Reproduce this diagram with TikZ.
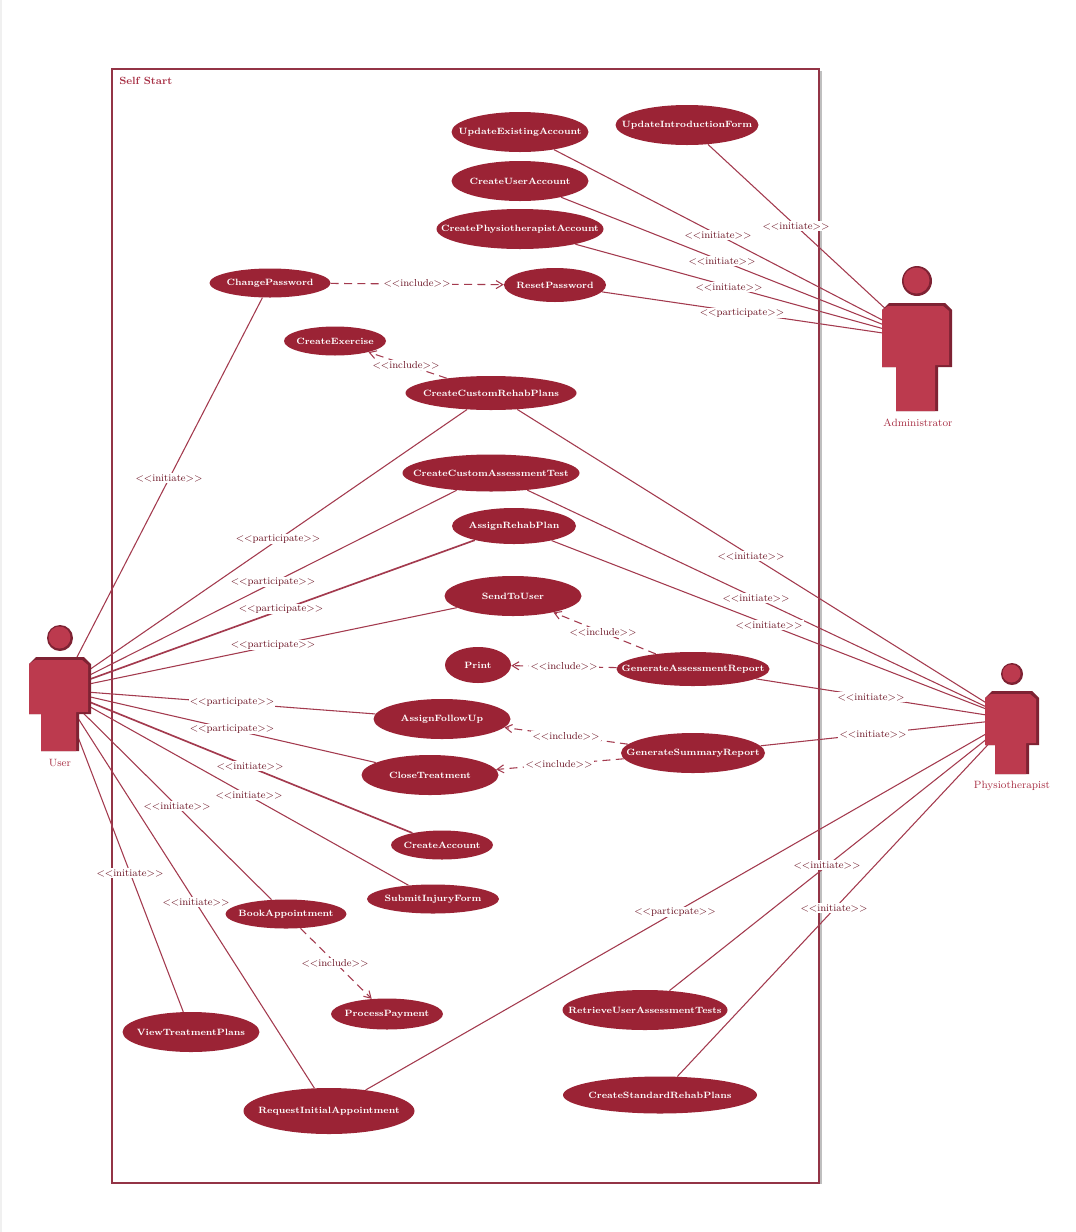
\documentclass[tikz,border=0pt]{standalone}
\usetikzlibrary{shapes.geometric,arrows.meta}
\definecolor{ucfill}{HTML}{9B2335}
\definecolor{conn}{HTML}{A33A4E}
\definecolor{actmain}{HTML}{BC3A4E}
\definecolor{actdark}{HTML}{7E2233}
\definecolor{lbltext}{HTML}{6E1828}
\definecolor{actname}{HTML}{A83045}
\tikzset{
  uc/.style={ellipse,fill=ucfill,draw=none,inner sep=0pt,text=white,font=\fontsize{6.85}{9}\selectfont\bfseries},
  connline/.style={draw=conn,line width=0.8pt},
  heavyline/.style={draw=conn,line width=1.25pt},
  incline/.style={draw=conn,line width=0.8pt,dash pattern=on 6pt off 4pt,-{Straight Barb[length=5pt,width=6pt]}},
  lbl/.style={fill=white,inner sep=0.8pt,text=lbltext,font=\fontsize{7.6}{9}\selectfont},
  actorname/.style={text=actname,inner sep=0pt,font=\fontsize{7.9}{9}\selectfont},
  frameline/.style={draw=conn!90!black,line width=1.5pt}
}
\newcommand{\ucase}[6]{\node[uc,minimum width=#4*0.75pt,minimum height=#5*0.75pt] (#1) at (#2,#3) {\makebox[0pt]{\raisebox{-0.5pt}{#6}}};}
\newcommand{\lnk}[6][connline]{\path[#1] (#2) -- (#3);\node[lbl] (#2-#3) at (#4,#5) {<{}<#6>{}>};}
% cx, head cy, head r, half body, top, body bottom, half leg, leg bottom
\newcommand{\actorfig}[8]{
  \fill[actdark] (#1,#2) circle ({#3*1pt*0.75});
  \fill[actmain] ({#1-0.5},{#2-0.5}) circle ({(#3-2)*1pt*0.75});
  \fill[actdark] ({#1-#4},{#5+7}) -- ({#1-#4+7},#5) -- ({#1+#4-7},#5) -- ({#1+#4},{#5+7}) -- ({#1+#4},#6) -- ({#1+#7},#6) -- ({#1+#7},#8) -- ({#1-#7},#8) -- ({#1-#7},#6) -- ({#1-#4},#6) -- cycle;
  \fill[actmain] ({#1-#4},{#5+7}) -- ({#1-#4+6},{#5+3}) -- ({#1+#4-9},{#5+3}) -- ({#1+#4-3},{#5+8}) -- ({#1+#4-3},{#6-2}) -- ({#1+#7-3},{#6-2}) -- ({#1+#7-3},{#8}) -- ({#1-#7},#8) -- ({#1-#7},#6) -- ({#1-#4},#6) -- cycle;
}
\begin{document}
\begin{tikzpicture}[x=0.75pt,y=-0.75pt]
\useasboundingbox (0,0) rectangle (1075,1232);
\fill[black!6] (0,0) rectangle (2,1232);
% system frame
\draw[draw=black!25,line width=1.5pt] (821,71) -- (821,1184);
\draw[frameline,fill=white] (112,69) rectangle (819,1183);
\node[anchor=west,inner sep=0pt,text=actname,font=\fontsize{7.8}{9}\selectfont\bfseries] (title) at (119,81) {Self Start};
% actor anchors
\coordinate (user) at (60,690);
\coordinate (admin) at (917,338);
\coordinate (physio) at (1012,719);
% use cases
\ucase{uea}{520}{132}{137}{40}{UpdateExistingAccount}
\ucase{uif}{687}{125}{143}{40}{UpdateIntroductionForm}
\ucase{cua}{520}{181}{137}{40}{CreateUserAccount}
\ucase{cpa}{520}{229}{167}{40}{CreatePhysiotherapistAccount}
\ucase{chp}{270}{283}{121}{29}{ChangePassword}
\ucase{rsp}{555}{285}{102}{34}{ResetPassword}
\ucase{cex}{335}{341}{102}{29}{CreateExercise}
\ucase{crp}{491}{393}{171}{34}{CreateCustomRehabPlans}
\ucase{cat}{491}{473}{177}{37}{CreateCustomAssessmentTest}
\ucase{arp}{514}{526}{124}{36}{AssignRehabPlan}
\ucase{stu}{513}{596}{137}{40}{SendToUser}
\ucase{prt}{478}{665}{66}{36}{Print}
\ucase{gar}{693}{669}{153}{34}{GenerateAssessmentReport}
\ucase{afu}{442}{719}{137}{40}{AssignFollowUp}
\ucase{gsr}{693}{753}{144}{40}{GenerateSummaryReport}
\ucase{clt}{430}{775}{137}{40}{CloseTreatment}
\ucase{cac}{442}{845}{102}{29}{CreateAccount}
\ucase{sif}{433}{899}{132}{29}{SubmitInjuryForm}
\ucase{bap}{286}{914}{121}{29}{BookAppointment}
\ucase{ppm}{387}{1014}{112}{31}{ProcessPayment}
\ucase{vtp}{191}{1032}{137}{40}{ViewTreatmentPlans}
\ucase{rat}{645}{1010}{165}{40}{RetrieveUserAssessmentTests}
\ucase{csp}{660}{1095}{194}{37}{CreateStandardRehabPlans}
\ucase{ria}{329}{1111}{171}{46}{RequestInitialAppointment}
% user links
\lnk{user}{chp}{169}{478}{initiate}
\lnk{user}{crp}{278}{539}{participate}
\lnk{user}{cat}{273}{582}{participate}
\lnk[heavyline]{user}{arp}{281}{609}{participate}
\lnk{user}{stu}{273}{645}{participate}
\lnk{user}{afu}{232}{702}{participate}
\lnk{user}{clt}{232}{729}{participate}
\lnk[heavyline]{user}{cac}{250}{766}{initiate}
\lnk{user}{sif}{249}{795}{initiate}
\lnk{user}{bap}{177}{806}{initiate}
\lnk{user}{vtp}{130}{873}{initiate}
\lnk{user}{ria}{196}{902}{initiate}
% administrator links
\lnk{admin}{uif}{796}{226}{initiate}
\lnk{admin}{uea}{718}{235}{initiate}
\lnk{admin}{cua}{722}{261}{initiate}
\lnk{admin}{cpa}{729}{287}{initiate}
\lnk{admin}{rsp}{742}{313}{participate}
% physiotherapist links
\lnk{physio}{crp}{751}{556}{initiate}
\lnk{physio}{cat}{756}{598}{initiate}
\lnk{physio}{arp}{769}{625}{initiate}
\lnk{physio}{gar}{871}{697}{initiate}
\lnk{physio}{gsr}{873}{734}{initiate}
\lnk{physio}{rat}{827}{865}{initiate}
\lnk{physio}{csp}{834}{908}{initiate}
\lnk{physio}{ria}{675}{912}{particpate}
% include links
\lnk[incline]{chp}{rsp}{417}{283}{include}
\lnk[incline]{crp}{cex}{406}{365}{include}
\lnk[incline]{gar}{stu}{603}{632}{include}
\lnk[incline]{gar}{prt}{564}{666}{include}
\lnk[incline]{gsr}{afu}{566}{736}{include}
\lnk[incline]{gsr}{clt}{559}{764}{include}
\lnk[incline]{bap}{ppm}{335}{963}{include}
% actors
\actorfig{60}{638}{13}{31}{657}{714}{19}{751}
\actorfig{917}{281}{15}{35}{303}{367}{21}{411}
\actorfig{1012}{674}{11}{27}{691}{745}{17}{774}
\node[actorname] (userlbl) at (60,763) {User};
\node[actorname] (adminlbl) at (918,423) {Administrator};
\node[actorname] (physiolbl) at (1012,786) {Physiotherapist};
\end{tikzpicture}
\end{document}
